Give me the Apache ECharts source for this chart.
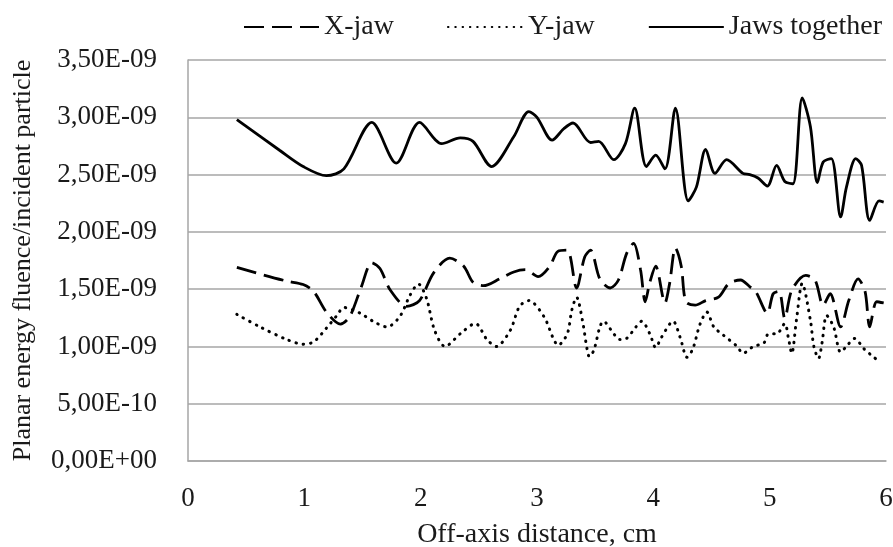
<!DOCTYPE html>
<html>
<head>
<meta charset="utf-8">
<script src="https://cdn.jsdelivr.net/npm/echarts@6/dist/echarts.min.js"></script>
<style>
html,body{margin:0;padding:0;background:#fff;}
#chart{width:893px;height:547px;}
</style>
</head>
<body>
<div id="chart"></div>
<script>
// Values in units of 1E-09 (planar energy fluence / incident particle)
const seriesNames = ['X-jaw', 'Y-jaw', 'Jaws together'];
const xTickLabels = ['0', '1', '2', '3', '4', '5', '6'];

const xjawX = [0.42,0.59,0.85,0.99,1.08,1.19,1.31,1.39,1.49,1.58,1.65,1.74,1.88,1.99,2.11,2.25,2.37,2.45,2.54,2.68,2.80,2.90,3.01,3.11,3.18,3.26,3.34,3.41,3.46,3.54,3.63,3.70,3.77,3.83,3.89,3.93,3.97,4.02,4.10,4.14,4.19,4.24,4.28,4.36,4.45,4.56,4.65,4.75,4.83,4.88,4.98,5.03,5.08,5.13,5.19,5.31,5.39,5.46,5.52,5.61,5.68,5.76,5.82,5.86,5.92,5.98];
const xjawY = [1.69,1.64,1.57,1.54,1.48,1.30,1.195,1.26,1.52,1.73,1.68,1.49,1.35,1.40,1.64,1.77,1.70,1.56,1.53,1.59,1.65,1.67,1.61,1.70,1.83,1.84,1.51,1.78,1.84,1.59,1.51,1.58,1.81,1.90,1.67,1.39,1.56,1.70,1.38,1.55,1.86,1.70,1.39,1.36,1.40,1.43,1.55,1.58,1.52,1.48,1.29,1.46,1.48,1.245,1.49,1.62,1.58,1.36,1.46,1.17,1.40,1.59,1.48,1.17,1.39,1.38];

const yjawX = [0.42,0.62,0.85,0.99,1.08,1.19,1.28,1.34,1.48,1.59,1.71,1.82,1.91,1.98,2.05,2.12,2.21,2.34,2.47,2.57,2.65,2.77,2.85,2.93,3.06,3.14,3.18,3.26,3.30,3.34,3.39,3.43,3.45,3.49,3.54,3.57,3.66,3.71,3.77,3.85,3.90,3.97,4.02,4.07,4.17,4.23,4.29,4.34,4.40,4.46,4.52,4.60,4.72,4.77,4.86,4.95,4.99,5.06,5.13,5.16,5.19,5.23,5.28,5.35,5.38,5.42,5.45,5.49,5.55,5.61,5.66,5.73,5.81,5.89,5.94];
const yjawY = [1.28,1.17,1.06,1.02,1.04,1.16,1.27,1.34,1.29,1.22,1.17,1.26,1.45,1.545,1.42,1.14,1.00,1.11,1.20,1.06,1.00,1.14,1.35,1.40,1.26,1.07,1.01,1.11,1.32,1.43,1.23,0.98,0.91,0.97,1.17,1.22,1.11,1.06,1.07,1.17,1.22,1.11,0.99,1.08,1.22,1.08,0.905,0.98,1.19,1.30,1.17,1.10,1.00,0.94,1.00,1.03,1.11,1.11,1.20,1.08,0.94,1.23,1.55,1.23,1.00,0.895,1.03,1.27,1.17,0.95,1.00,1.07,0.98,0.91,0.87];

const jawsX = [0.42,0.79,0.99,1.19,1.34,1.58,1.79,1.99,2.18,2.34,2.45,2.61,2.80,2.93,3.00,3.13,3.23,3.31,3.46,3.53,3.66,3.76,3.84,3.94,4.02,4.10,4.19,4.30,4.37,4.45,4.53,4.63,4.77,4.83,4.90,4.98,5.06,5.13,5.20,5.28,5.35,5.41,5.46,5.53,5.61,5.66,5.74,5.79,5.86,5.94,5.98];
const jawsY = [2.98,2.71,2.57,2.49,2.55,2.955,2.60,2.955,2.77,2.82,2.79,2.57,2.83,3.05,3.00,2.80,2.90,2.95,2.78,2.79,2.63,2.77,3.08,2.57,2.67,2.55,3.08,2.27,2.39,2.72,2.51,2.63,2.51,2.50,2.47,2.40,2.58,2.44,2.42,3.17,2.92,2.43,2.61,2.64,2.13,2.39,2.64,2.58,2.10,2.27,2.26];

function pairs(xs, ys) { return xs.map((x, i) => [x, ys[i]]); }

function sciLabel(v) {
  const r = Math.round(v * 100) / 100;
  if (r === 0) return '0,00E+00';
  const val = r * 1e-9;
  let e = Math.floor(Math.log10(val) + 1e-9);
  let m = val / Math.pow(10, e);
  if (m >= 9.995) { m /= 10; e += 1; }
  const sign = e < 0 ? '-' : '+';
  const ea = Math.abs(e);
  return m.toFixed(2).replace('.', ',') + 'E' + sign + (ea < 10 ? '0' : '') + ea;
}

const FONT = 'Liberation Serif';
const TXT = '#1a1a1a';
const chart = echarts.init(document.getElementById('chart'), null, { renderer: 'canvas' });

chart.setOption({
  animation: false,
  backgroundColor: '#ffffff',
  grid: { left: 188, right: 7, top: 60, bottom: 86, containLabel: false, outerBoundsMode: 'none' },
  legend: {
    left: 238,
    top: 8,
    itemWidth: 75,
    itemHeight: 28,
    itemGap: 53,
    itemStyle: { opacity: 0, borderWidth: 0 },
    textStyle: { fontFamily: FONT, fontSize: 28, color: TXT, padding: [0, 0, 0, 0] },
    data: seriesNames
  },
  xAxis: {
    type: 'value',
    min: 0, max: 6, interval: 1,
    name: 'Off-axis distance, cm',
    nameLocation: 'middle',
    nameGap: 60,
    nameTextStyle: { fontFamily: FONT, fontSize: 28, color: TXT },
    axisLine: { show: true, lineStyle: { color: '#a6a6a6', width: 1.5 } },
    axisTick: { show: false },
    splitLine: { show: false },
    axisLabel: {
      fontFamily: FONT, fontSize: 27, color: TXT, margin: 24,
      formatter: v => xTickLabels[Math.round(v)] !== undefined ? xTickLabels[Math.round(v)] : String(v)
    }
  },
  yAxis: {
    type: 'value',
    min: 0, max: 3.5, interval: 0.5,
    name: 'Planar energy fluence/incident particle',
    nameLocation: 'middle',
    nameGap: 152,
    nameRotate: 90,
    nameTextStyle: { fontFamily: FONT, fontSize: 26, color: TXT },
    axisLine: { show: true, lineStyle: { color: '#a6a6a6', width: 1.5 } },
    axisTick: { show: false },
    splitLine: { show: true, lineStyle: { color: '#a6a6a6', width: 1.5 } },
    axisLabel: { fontFamily: FONT, fontSize: 27, color: TXT, margin: 31, formatter: sciLabel }
  },
  series: [
    {
      name: seriesNames[0], type: 'line', symbol: 'none', smooth: 0.3,
      data: pairs(xjawX, xjawY),
      lineStyle: { color: '#000', width: 2.8, type: [20, 8], cap: 'butt' },
      itemStyle: { color: '#000' }, z: 3
    },
    {
      name: seriesNames[1], type: 'line', symbol: 'none', smooth: 0.3,
      data: pairs(yjawX, yjawY),
      lineStyle: { color: '#000', width: 3, type: [0.5, 6.8], cap: 'round' },
      itemStyle: { color: '#000' }, z: 2
    },
    {
      name: seriesNames[2], type: 'line', symbol: 'none', smooth: 0.3,
      data: pairs(jawsX, jawsY),
      lineStyle: { color: '#000', width: 2.8, type: 'solid' },
      itemStyle: { color: '#000' }, z: 4
    }
  ]
});
</script>
</body>
</html>
